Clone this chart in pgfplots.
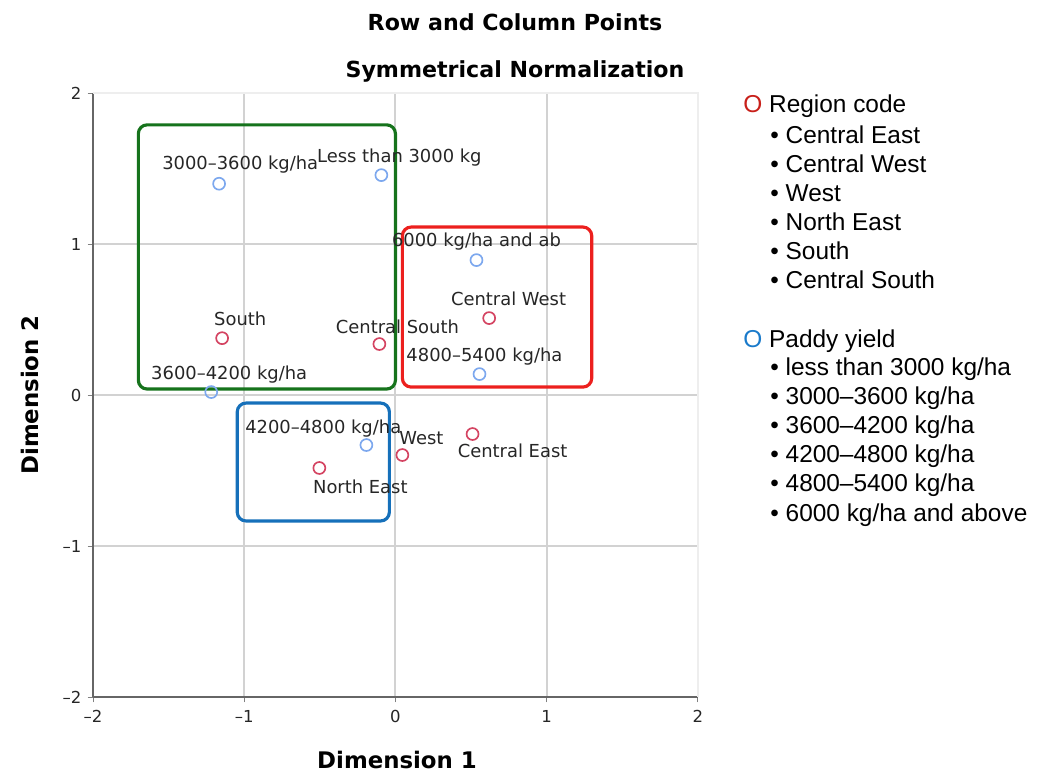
\documentclass[border=0pt]{standalone}
\usepackage{pgfplots}
\pgfplotsset{compat=1.18}
\usepackage{fontspec}
\setmainfont{DejaVu Sans}
\newfontfamily\legfont{Liberation Sans}
\definecolor{ptred}{RGB}{212,68,98}
\definecolor{ptblue}{RGB}{125,168,238}
\definecolor{boxgreen}{RGB}{22,115,28}
\definecolor{boxred}{RGB}{236,32,30}
\definecolor{boxblue}{RGB}{22,112,186}
\definecolor{legred}{RGB}{200,32,26}
\definecolor{legblue}{RGB}{26,122,202}
\definecolor{gridgray}{RGB}{210,210,210}
\definecolor{faintgray}{RGB}{238,238,238}
\begin{document}
\begin{tikzpicture}[x=0.02cm,y=0.02cm]
\path[use as bounding box] (0,0) rectangle (1044,774);
\begin{axis}[
  at={(1.86cm,1.54cm)}, anchor=south west,
  scale only axis, width=12.1cm, height=12.08cm,
  xmin=-2, xmax=2, ymin=-2, ymax=2,
  axis lines*=left,
  axis line style={draw=black!60, line width=0.9pt, -},
  xtick={-2,-1,0,1,2}, ytick={-2,-1,0,1,2},
  xticklabels={–2,–1,0,1,2}, yticklabels={–2,–1,0,1,2},
  tick label style={font=\fontsize{9.4}{11}\selectfont, text=black!85},
  xticklabel style={yshift=-1pt},
  major tick length=3pt, tick style={draw=black!50, line width=0.5pt},
  tick align=outside,
  grid=major, major grid style={draw=gridgray, line width=1.2pt},
  clip=false,
]
% faint outer grid lines
\draw[faintgray, line width=0.8pt] (axis cs:-2,2) -- (axis cs:2,2) -- (axis cs:2,-2);
% annotation boxes
\draw[boxgreen, line width=1.8pt, rounded corners=5pt] (axis cs:-1.70,0.04) rectangle (axis cs:0.0,1.79);
\draw[boxred, line width=1.8pt, rounded corners=5pt] (axis cs:0.046,0.053) rectangle (axis cs:1.298,1.113);
\draw[boxblue, line width=1.8pt, rounded corners=5pt] (axis cs:-1.046,-0.834) rectangle (axis cs:-0.04,-0.053);
% Region code (row points)
\addplot[only marks, mark=o, mark size=3.4pt, mark options={draw=ptred, line width=0.95pt}] coordinates {
  (0.51,-0.258)   % Central East
  (0.62,0.51)     % Central West
  (0.046,-0.397)  % West
  (-0.503,-0.483) % North East
  (-1.146,0.377)  % South
  (-0.106,0.338)  % Central South
};
% Paddy yield (column points)
\addplot[only marks, mark=o, mark size=3.4pt, mark options={draw=ptblue, line width=0.95pt}] coordinates {
  (-0.093,1.457)  % less than 3000
  (-1.166,1.40)   % 3000-3600
  (-1.218,0.02)   % 3600-4200
  (-0.192,-0.331) % 4200-4800
  (0.556,0.139)   % 4800-5400
  (0.536,0.894)   % 6000 and above
};
\begin{scope}[every node/.style={font=\fontsize{10.2}{12}\selectfont, text=black!85, inner sep=0pt}]
\node at (axis cs:-1.026,1.53) {3000–3600 kg/ha};
\node at (axis cs:0.026,1.576) {Less than 3000 kg};
\node at (axis cs:0.536,1.02) {6000 kg/ha and ab};
\node at (axis cs:0.748,0.636) {Central West};
\node at (axis cs:-1.026,0.503) {South};
\node at (axis cs:0.013,0.45) {Central South};
\node at (axis cs:0.589,0.258) {4800–5400 kg/ha};
\node at (axis cs:-1.099,0.139) {3600–4200 kg/ha};
\node at (axis cs:-0.477,-0.225) {4200–4800 kg/ha};
\node at (axis cs:0.172,-0.285) {West};
\node at (axis cs:0.775,-0.371) {Central East};
\node at (axis cs:-0.232,-0.609) {North East};
\end{scope}
\end{axis}
% titles
\node[font=\bfseries\fontsize{12.6}{14}\selectfont] at (515,752) {Row and Column Points};
\node[font=\bfseries\fontsize{12.6}{14}\selectfont] at (515,703) {Symmetrical Normalization};
% axis labels
\node[font=\bfseries\fontsize{13}{15}\selectfont] at (397,14) {Dimension 1};
\node[font=\bfseries\fontsize{13}{15}\selectfont, rotate=90] at (30,379) {Dimension 2};
% legend
\begin{scope}[every node/.style={font=\legfont\fontsize{13.9}{16}\selectfont, anchor=west, inner sep=0pt}]
\node at (743,668) {\textcolor{legred}{O}\ Region code};
\node at (770,639) {• Central East};
\node at (770,610) {• Central West};
\node at (770,581) {• West};
\node at (770,552) {• North East};
\node at (770,523) {• South};
\node at (770,494) {• Central South};
\node at (743,433) {\textcolor{legblue}{O}\ Paddy yield};
\node at (770,405) {• less than 3000 kg/ha};
\node at (770,376) {• 3000–3600 kg/ha};
\node at (770,347) {• 3600–4200 kg/ha};
\node at (770,318) {• 4200–4800 kg/ha};
\node at (770,289) {• 4800–5400 kg/ha};
\node at (770,259) {• 6000 kg/ha and above};
\end{scope}
\end{tikzpicture}
\end{document}
